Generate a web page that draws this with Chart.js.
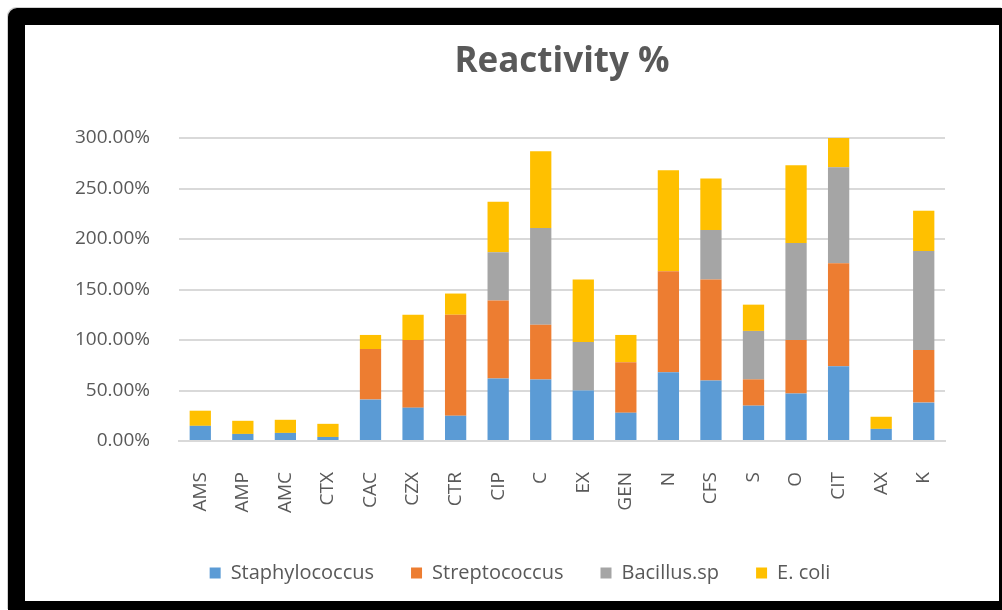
<!DOCTYPE html>
<html>
<head>
<meta charset="utf-8">
<script src="https://cdn.jsdelivr.net/npm/chart.js@4"></script>
<style>
    body { margin: 0; background: #fff; }
    #frame {
        position: absolute;
        left: 8px; top: 8px;
        width: 994px; height: 602px;
        box-sizing: border-box;
        border-style: solid;
        border-color: #000;
        border-width: 17px 3px 9px 17px;
        border-top-left-radius: 9px;
        box-shadow: -1px -1px 0 #d0d0d0;
        overflow: hidden;
    }
    #chart { display: block; }
</style>
</head>
<body>
<div id="frame">
    <canvas id="chart" width="974" height="576"></canvas>
</div>
<script>
// カテゴリ
const categories = ['AMS', 'AMP', 'AMC', 'CTX', 'CAC', 'CZX', 'CTR', 'CIP', 'C', 'EX', 'GEN', 'N', 'CFS', 'S', 'O', 'CIT', 'AX', 'K'];

// 菌ごとの値 (%)
const staphylococcus = [15, 7, 8, 4, 41, 33, 25, 62, 61, 50, 28, 68, 60, 35, 47, 74, 12, 38];
const streptococcus  = [0, 0, 0, 0, 50, 67, 100, 77, 54, 0, 50, 100, 100, 26, 53, 102, 0, 52];
const bacillus       = [0, 0, 0, 0, 0, 0, 0, 48, 96, 48, 0, 0, 49, 48, 96, 95, 0, 98];
const ecoli          = [15, 13, 13, 13, 14, 25, 21, 50, 76, 62, 27, 100, 51, 26, 77, 29, 12, 40];

// 目盛り
const yTicks = [0, 50, 100, 150, 200, 250, 300];

const textColor = '#595959';
const fontFamily = '"Open Sans", "Liberation Sans", sans-serif';

const series = [
    { label: 'Staphylococcus', data: staphylococcus, color: '#5B9BD5' },
    { label: 'Streptococcus', data: streptococcus, color: '#ED7D31' },
    { label: 'Bacillus.sp', data: bacillus, color: '#A5A5A5' },
    { label: 'E. coli', data: ecoli, color: '#FFC000' }
];

const ctx = document.getElementById('chart').getContext('2d');

new Chart(ctx, {
    type: 'bar',
    data: {
        labels: categories,
        datasets: series.map(s => ({
            label: s.label,
            data: s.data,
            backgroundColor: s.color,
            borderWidth: 0,
            barPercentage: 0.5,
            categoryPercentage: 1
        }))
    },
    options: {
        responsive: false,
        animation: false,
        layout: {
            padding: { left: 48, right: 32, top: 0, bottom: 8 }
        },
        plugins: {
            title: {
                display: true,
                text: 'Reactivity %',
                fullSize: false,
                color: textColor,
                font: { family: fontFamily, size: 35, weight: 'bold' },
                padding: { top: 16, bottom: 55 }
            },
            legend: {
                position: 'bottom',
                labels: {
                    color: textColor,
                    font: { family: fontFamily, size: 20 },
                    boxWidth: 11,
                    boxHeight: 11,
                    padding: 37
                }
            },
            tooltip: { enabled: false }
        },
        scales: {
            x: {
                stacked: true,
                grid: { display: false, drawTicks: false },
                border: { color: '#D9D9D9', width: 2 },
                afterFit: axis => {
                    axis.height = 85;
                },
                ticks: {
                    color: textColor,
                    font: { family: fontFamily, size: 19 },
                    minRotation: 90,
                    maxRotation: 90,
                    autoSkip: false,
                    padding: 31
                }
            },
            y: {
                stacked: true,
                min: 0,
                max: 300,
                afterBuildTicks: axis => {
                    axis.ticks = yTicks.map(v => ({ value: v }));
                },
                afterFit: axis => {
                    axis.width = 106;
                },
                grid: { color: '#D9D9D9', lineWidth: 2, drawTicks: false },
                border: { display: false },
                ticks: {
                    color: textColor,
                    font: { family: fontFamily, size: 19 },
                    padding: 29,
                    callback: v => v.toFixed(2) + '%'
                }
            },
            // 右側の余白用 (非表示)
            yRight: {
                position: 'right',
                min: 0,
                max: 300,
                afterFit: axis => {
                    axis.width = 22;
                },
                grid: { display: false, drawTicks: false },
                border: { display: false },
                ticks: { display: false }
            }
        }
    }
});
</script>
</body>
</html>
